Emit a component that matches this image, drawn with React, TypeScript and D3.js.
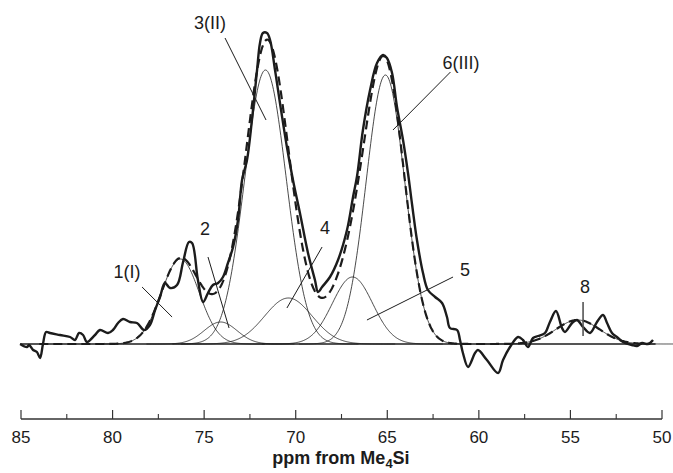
import React from "react";
import * as d3 from "d3";

// ---- axis ----
const majorTicks = [85, 80, 75, 70, 65, 60, 55, 50];
const minorTicks = [82.5, 77.5, 72.5, 67.5, 62.5, 57.5, 52.5];

// ---- deconvoluted Gaussian components (ppm, height a.u., sigma ppm) ----
const peakLabels = ["1(I)", "2", "3(II)", "4", "5", "6(III)", "8"];
const peakCenters = [76.3, 74.1, 71.65, 70.4, 66.9, 65.1, 54.6];
const peakHeights = [85, 22, 274, 46, 67, 269, 24];
const peakWidths = [1.03, 0.9, 1.13, 1.3, 1.1, 1.05, 1.2];

// ---- label positions and leader lines (ppm, intensity) ----
const labelPpm = [79.21, 74.95, 74.68, 68.4, 60.76, 60.97, 54.2];
const labelInt = [72, 115, 321, 116, 74, 281, 57];
const leaderFromPpm = [78.39, 74.79, 73.86, 68.56, 61.41, 61.55, 54.31];
const leaderFromInt = [57, 87, 306, 97, 67, 272, 42];
const leaderToPpm = [76.75, 73.64, 71.62, 70.48, 66.11, 64.69, 54.31];
const leaderToInt = [27, 16, 224, 36, 24, 214, 8];

// ---- experimental spectrum ----
const expPpm = [
  85.05, 84.67, 84.56, 84.34, 84.13, 83.96, 83.8, 83.63, 83.42, 82.87, 82.32,
  82.05, 81.83, 81.61, 81.4, 80.96, 80.69, 80.25, 79.98, 79.7, 79.43, 79.05,
  78.67, 78.28, 77.96, 77.68, 77.41, 77.14, 76.86, 76.48, 76.15, 75.83, 75.66,
  75.34, 75.06, 74.79, 74.52, 74.24, 73.97, 73.7, 73.42, 73.15, 72.93, 72.66,
  72.39, 72.11, 71.95, 71.79, 71.57, 71.4, 71.13, 70.86, 70.48, 70.15, 69.77,
  69.33, 68.95, 68.78, 68.56, 68.13, 67.69, 67.2, 66.87, 66.65, 66.33, 65.94,
  65.56, 65.23, 65.02, 64.74, 64.47, 64.14, 63.87, 63.65, 63.38, 63.05, 62.78,
  62.39, 62.01, 61.74, 61.58, 61.19, 61.03, 60.87, 60.59, 60.21, 60.05, 59.56,
  58.95, 58.68, 58.3, 57.86, 57.59, 57.32, 57.04, 56.77, 56.39, 56.12, 55.79,
  55.46, 55.3, 54.91, 54.64, 54.31, 53.93, 53.55, 53.22, 53.0, 52.73, 52.46,
  52.13, 51.64, 51.36, 51.09, 50.76, 50.49,
];
const expIntensity = [
  0, -3, -1, -6, -8, -14, 0, 12, 11, 9, 7,
  4, 11, 9, 2, 9, 14, 11, 14, 21, 25, 22,
  21, 14, 19, 34, 47, 61, 56, 59, 82, 102, 101,
  64, 42, 51, 59, 61, 67, 81, 97, 124, 164, 184,
  224, 274, 301, 311, 311, 304, 274, 241, 197, 164, 131,
  91, 64, 52, 57, 67, 84, 114, 147, 168, 214, 254,
  281, 289, 286, 271, 237, 204, 171, 140, 104, 71, 54,
  47, 41, 27, 16, 14, 4, -9, -23, -9, -6, -16,
  -29, -16, -3, 7, 4, -3, 6, 8, 11, 22, 33,
  16, 12, 21, 24, 17, 11, 22, 29, 21, 11, 7,
  2, -1, -2, 1, 0, 4,
];

const W = 673;
const H = 473;
const INK = "#1c1c1c";
const FONT = "'Liberation Sans', Arial, Helvetica, sans-serif";

const gauss = (x: number, c: number, h: number, s: number) =>
  h * Math.exp(-((x - c) * (x - c)) / (2 * s * s));

export default function App() {
  const x = d3.scaleLinear().domain([85, 50]).range([21, 662]);
  const y = d3.scaleLinear().domain([0, 320]).range([344, 24]);
  const axisY = 419;

  const line = d3
    .line<[number, number]>()
    .x((d) => x(d[0]))
    .y((d) => y(d[1]));

  const comps = peakCenters.map((c, i) => {
    const s = peakWidths[i];
    const pts: [number, number][] = d3
      .range(c + 4.5 * s, c - 4.5 * s, -0.04)
      .map((p) => [p, gauss(p, c, peakHeights[i], s)]);
    return line(pts) || "";
  });

  const sumPts: [number, number][] = d3.range(84.0, 50.6, -0.04).map((p) => [
    p,
    peakCenters.reduce(
      (acc, c, i) => acc + gauss(p, c, peakHeights[i], peakWidths[i]),
      0
    ),
  ]);
  const sumPath = line(sumPts) || "";

  const expLine = d3
    .line<number>()
    .x((_, i) => x(expPpm[i]))
    .y((d) => y(d))
    .curve(d3.curveCatmullRom.alpha(0.5));
  const expPath = expLine(expIntensity) || "";

  return (
    <svg
      width={W}
      height={H}
      style={{ position: "absolute", left: 0, top: 0, background: "#fff" }}
      fontFamily={FONT}
    >
      <rect width={W} height={H} fill="#fff" />
      {/* baseline */}
      <line x1={x(85.05)} x2={x(50.35)} y1={y(0)} y2={y(0)} stroke={INK} strokeWidth={1.6} />
      {/* components */}
      {comps.map((d, i) => (
        <path key={i} d={d} fill="none" stroke={INK} strokeWidth={0.8} />
      ))}
      {/* fit sum */}
      <path d={sumPath} fill="none" stroke={INK} strokeWidth={2.2} strokeDasharray="9,5" />
      {/* experimental */}
      <path d={expPath} fill="none" stroke={INK} strokeWidth={2.4} strokeLinejoin="round" />
      {/* leaders and labels */}
      {peakLabels.map((lab, i) => (
        <g key={lab}>
          <line
            x1={x(leaderFromPpm[i])}
            y1={y(leaderFromInt[i])}
            x2={x(leaderToPpm[i])}
            y2={y(leaderToInt[i])}
            stroke={i === 6 ? "#555" : INK}
            strokeWidth={i === 6 ? 1.6 : 1}
          />
          <text
            x={x(labelPpm[i])}
            y={y(labelInt[i])}
            textAnchor="middle"
            dominantBaseline="central"
            fontSize={18}
            fill={INK}
          >
            {lab}
          </text>
        </g>
      ))}
      {/* x axis */}
      <line x1={x(85)} x2={x(50)} y1={axisY} y2={axisY} stroke="#333" strokeWidth={1.3} />
      {majorTicks.map((t) => (
        <g key={t}>
          <line x1={x(t)} x2={x(t)} y1={axisY} y2={axisY - 9} stroke="#333" strokeWidth={1.2} />
          <text x={x(t)} y={443} textAnchor="middle" fontSize={17} fill={INK}>
            {t}
          </text>
        </g>
      ))}
      {minorTicks.map((t) => (
        <line key={t} x1={x(t)} x2={x(t)} y1={axisY} y2={axisY - 5} stroke="#333" strokeWidth={1.1} />
      ))}
      <text x={341} y={464} textAnchor="middle" fontSize={18} fontWeight="bold" fill={INK}>
        ppm from Me
        <tspan fontSize={13} dy={4}>4</tspan>
        <tspan dy={-4}>Si</tspan>
      </text>
    </svg>
  );
}
